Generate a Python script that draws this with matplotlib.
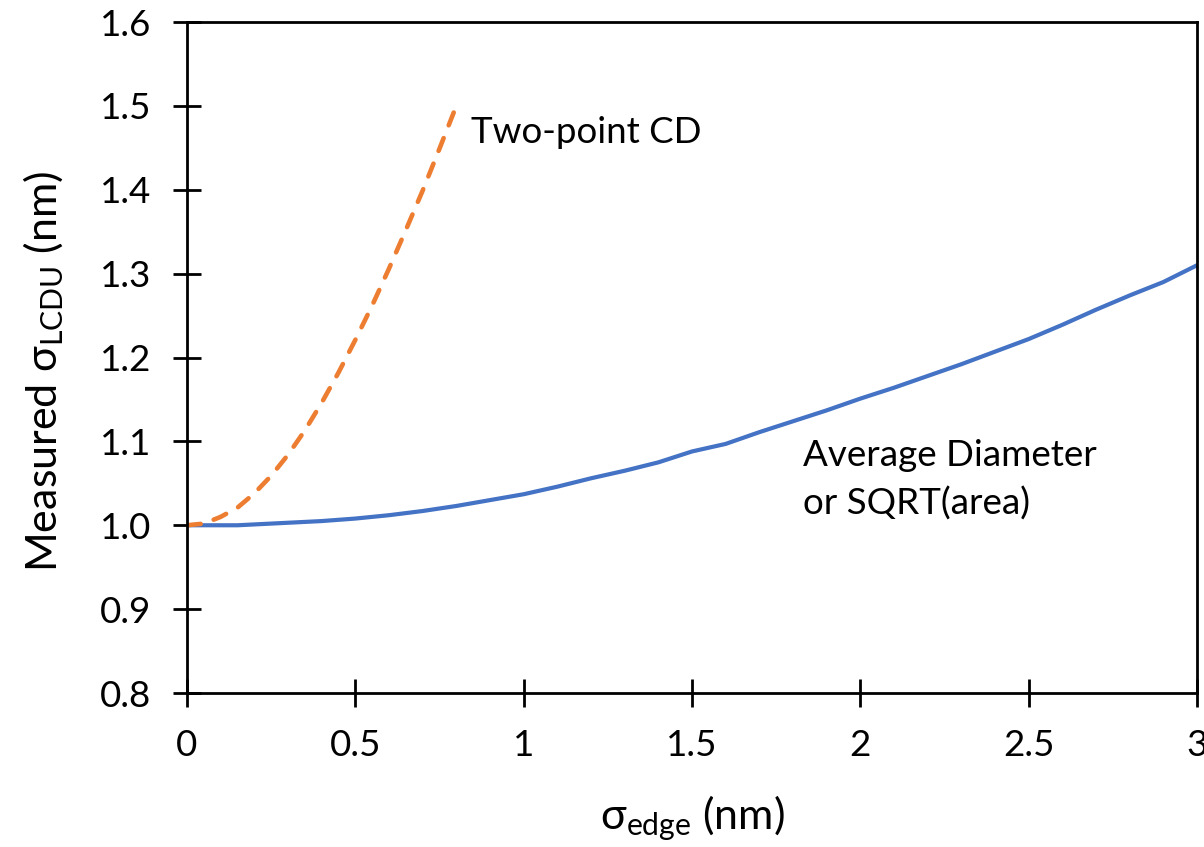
"""Measured LCDU vs edge roughness: two-point CD vs average diameter."""

import matplotlib
matplotlib.use("Agg")
import matplotlib.pyplot as plt

plt.rcParams["font.family"] = ["Lato", "DejaVu Sans"]
plt.rcParams["mathtext.fontset"] = "custom"
plt.rcParams["mathtext.rm"] = "Lato"
plt.rcParams["mathtext.it"] = "Lato:italic"

# --- data ---
sigma_edge_avg = [0.0, 0.15, 0.2, 0.3, 0.4, 0.5, 0.6, 0.7, 0.8, 0.9, 1.0,
                  1.1, 1.2, 1.3, 1.4, 1.5, 1.6, 1.7, 1.8, 1.9, 2.0,
                  2.1, 2.2, 2.3, 2.4, 2.5, 2.6, 2.7, 2.8, 2.9, 3.0]
lcdu_avg = [1.0, 1.0, 1.001, 1.003, 1.005, 1.008, 1.012, 1.017, 1.023, 1.03, 1.037,
            1.046, 1.056, 1.065, 1.075, 1.088, 1.097, 1.111, 1.124, 1.137, 1.151,
            1.164, 1.178, 1.192, 1.207, 1.222, 1.239, 1.257, 1.274, 1.290, 1.31]

sigma_edge_2pt = [0.0, 0.05, 0.1, 0.15, 0.2, 0.25, 0.3, 0.35, 0.4, 0.45,
                  0.5, 0.55, 0.6, 0.65, 0.7, 0.75, 0.8]
lcdu_2pt = [1.0, 1.002, 1.01, 1.021, 1.038, 1.059, 1.084, 1.113, 1.146, 1.182,
            1.221, 1.262, 1.306, 1.352, 1.399, 1.449, 1.5]

x_ticks = [0, 0.5, 1, 1.5, 2, 2.5, 3]
x_ticklabels = ["0", "0.5", "1", "1.5", "2", "2.5", "3"]
y_ticks = [0.8, 0.9, 1.0, 1.1, 1.2, 1.3, 1.4, 1.5, 1.6]

BLUE = "#4472C4"
ORANGE = "#ED7D31"

fig = plt.figure(figsize=(12.04, 8.47), dpi=100)
ax = fig.add_axes([0.1553, 0.1818, 0.8389, 0.7922])

ax.plot(sigma_edge_avg, lcdu_avg, color=BLUE, lw=3, solid_capstyle="round",
        solid_joinstyle="round")
ax.plot(sigma_edge_2pt, lcdu_2pt, color=ORANGE, lw=3.3,
        dashes=(3.0, 3.0), dash_capstyle="round")

ax.text(0.845, 1.468, "Two-point CD", fontsize=26.5, ha="left", va="center")
ax.text(1.83, 1.054, "Average Diameter\nor SQRT(area)", fontsize=26.5,
        ha="left", va="center", linespacing=1.5)

ax.set_xlim(0, 3); ax.set_ylim(0.8, 1.6)
ax.set_xticks(x_ticks, x_ticklabels)
ax.set_yticks(y_ticks, [f"{v:.1f}" for v in y_ticks])
ax.tick_params(direction="inout", length=19.5, width=2, labelsize=26.5, pad=16)

for s in ax.spines.values():
    s.set_linewidth(2)

ax.set_xlabel(r"σ$_{\mathrm{edge}}$ (nm)", fontsize=31, labelpad=23)
ax.set_ylabel(r"Measured σ$_{\mathrm{LCDU}}$ (nm)", fontsize=31, labelpad=24)
ax.yaxis.set_label_coords(-0.12, 0.48)

fig.savefig("out.png", dpi=100)
